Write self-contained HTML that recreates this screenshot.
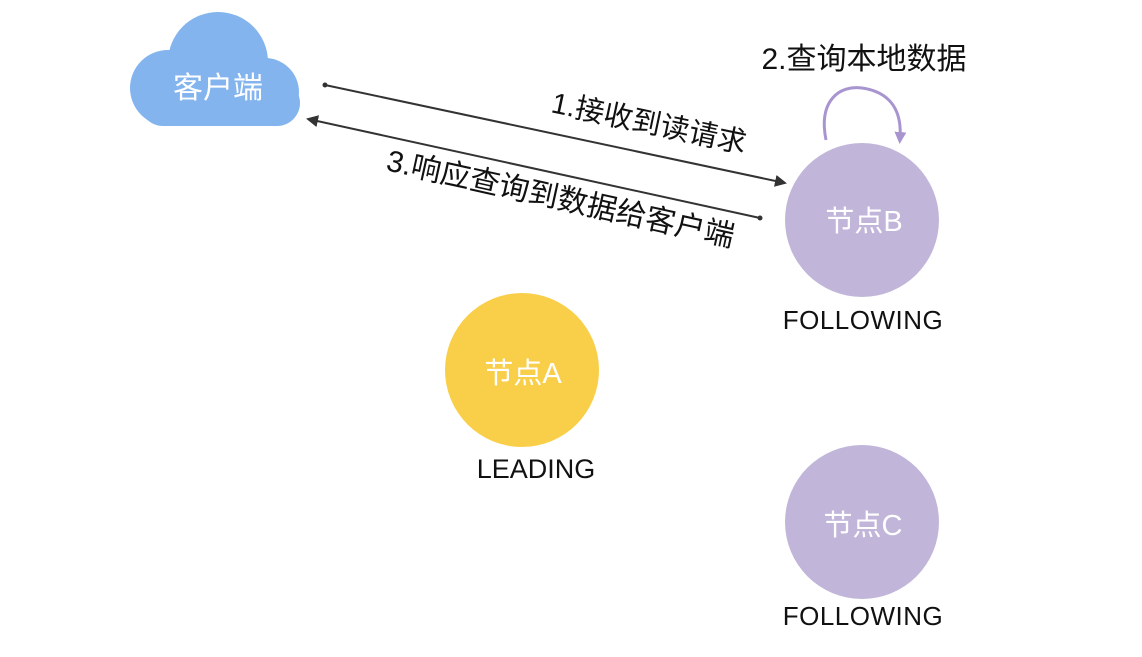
<!DOCTYPE html>
<html><head><meta charset="utf-8"><style>
body{margin:0;background:#fff;width:1142px;height:652px;overflow:hidden;font-family:"Liberation Sans","Noto Sans CJK SC",sans-serif}
</style></head><body>
<svg width="1142" height="652" viewBox="0 0 1142 652" xmlns="http://www.w3.org/2000/svg" font-family="Liberation Sans, Noto Sans CJK SC, sans-serif">
<defs>
<marker id="ah" markerWidth="12" markerHeight="12" refX="10" refY="6" orient="auto" markerUnits="userSpaceOnUse">
<path d="M0,0 L12,6 L0,12 z" fill="#333"/></marker>
<marker id="ah2" markerWidth="12" markerHeight="12" refX="6" refY="6" orient="auto" markerUnits="userSpaceOnUse">
<path d="M0,0 L12,6 L0,12 z" fill="#a895d0"/></marker>
</defs>
<g fill="#84b4ee">
<circle cx="218" cy="62" r="50"/>
<circle cx="168" cy="88" r="38"/>
<circle cx="265" cy="92" r="34"/>
<rect x="140" y="80" width="160" height="46" rx="23"/>
</g>
<text x="218" y="98" font-size="30" fill="#fff" text-anchor="middle">客户端</text>
<circle cx="325" cy="85" r="2.5" fill="#333"/>
<line x1="325" y1="85" x2="785" y2="183" stroke="#333" stroke-width="2" marker-end="url(#ah)"/>
<circle cx="760" cy="218" r="2.5" fill="#333"/>
<line x1="760" y1="218" x2="308" y2="119" stroke="#333" stroke-width="2" marker-end="url(#ah)"/>
<text transform="translate(550,112) rotate(12)" font-size="29" fill="#111">1.接收到读请求</text>
<text transform="translate(385,170) rotate(12.5)" font-size="30" fill="#111">3.响应查询到数据给客户端</text>
<circle cx="862" cy="220" r="77" fill="#c1b6da"/>
<text x="864" y="231" font-size="29" fill="#fff" text-anchor="middle">节点B</text>
<text x="863" y="329" font-size="26" fill="#111" text-anchor="middle" letter-spacing="0.5">FOLLOWING</text>
<path d="M826,140 C818,100 840,85 862,88 C890,92 902,110 900,138" fill="none" stroke="#a895d0" stroke-width="3" marker-end="url(#ah2)"/>
<text x="864" y="69" font-size="30" fill="#111" text-anchor="middle">2.查询本地数据</text>
<circle cx="522" cy="370" r="77" fill="#f9cf4a"/>
<text x="523" y="383" font-size="29" fill="#fff" text-anchor="middle">节点A</text>
<text x="536" y="478" font-size="27" fill="#111" text-anchor="middle">LEADING</text>
<circle cx="862" cy="522" r="77" fill="#c1b6da"/>
<text x="863" y="535" font-size="29" fill="#fff" text-anchor="middle">节点C</text>
<text x="863" y="625" font-size="26" fill="#111" text-anchor="middle" letter-spacing="0.5">FOLLOWING</text>
</svg>
</body></html>
